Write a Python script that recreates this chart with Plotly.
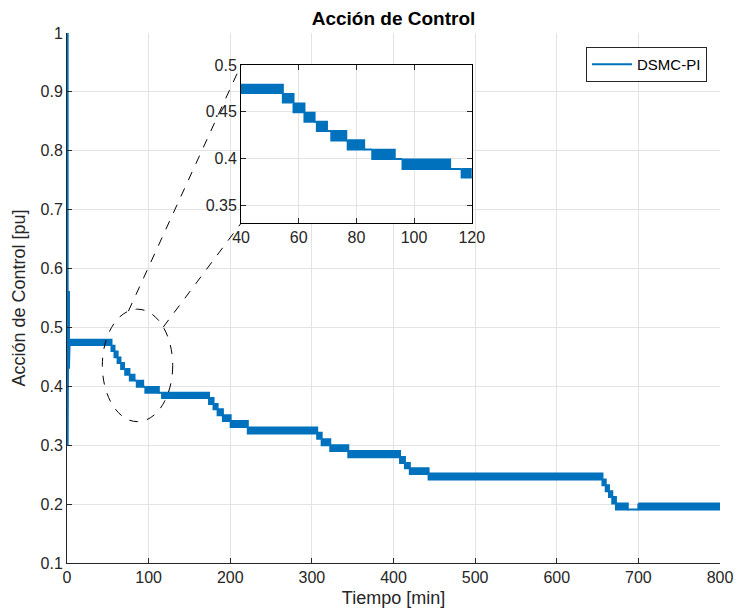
import math
import plotly.graph_objects as go

# ---------------- data ----------------
# initial transient at t ~ 0
trans_t = [0.8, 0.8, 1.6, 1.6, 2.4, 2.4, 3.2, 3.2]
trans_v = [1.00, 0.30, 0.30, 0.56, 0.56, 0.43, 0.43, 0.475]

# chattering segments: start time, end time, upper level, lower level
seg_start = [3.2, 54.5, 58.2, 62.0, 65.5, 66.3, 69.8, 71.3, 76.5, 77.0, 82.7, 85.5, 93.3, 96.0,
             112.5, 116.5, 174.0, 179.5, 184.5, 191.0, 200.5, 221.5, 306.5, 312.0, 322.5, 344.6,
             408.0, 414.0, 420.0, 443.0, 656.0, 660.0, 664.0, 668.0, 672.5, 687.0, 700.0]
seg_end = seg_start[1:] + [800.0]
seg_hi = [0.479, 0.469, 0.459, 0.449, 0.4395, 0.4395, 0.4295, 0.4295, 0.4195, 0.4197, 0.4097, 0.4095,
          0.3995, 0.399, 0.389, 0.389, 0.380, 0.370, 0.361, 0.351, 0.341, 0.330, 0.321, 0.310, 0.300,
          0.290, 0.280, 0.270, 0.261, 0.252, 0.242, 0.232, 0.222, 0.212, 0.201, 0.191, 0.201]
seg_lo = [0.470, 0.460, 0.4495, 0.4395, 0.4395, 0.4295, 0.4295, 0.4195, 0.4195, 0.4097, 0.4097, 0.3995,
          0.3995, 0.389, 0.389, 0.380, 0.370, 0.361, 0.351, 0.341, 0.331, 0.320, 0.311, 0.300, 0.290,
          0.2795, 0.270, 0.261, 0.251, 0.242, 0.232, 0.222, 0.212, 0.201, 0.191, 0.191, 0.191]

x_ticks_main = [0, 100, 200, 300, 400, 500, 600, 700, 800]
y_ticks_main = [0.1, 0.2, 0.3, 0.4, 0.5, 0.6, 0.7, 0.8, 0.9, 1.0]
x_ticks_inset = [40, 60, 80, 100, 120]
y_ticks_inset = [0.35, 0.40, 0.45, 0.50]
y_ticktext_inset = ["0.35", "0.4", "0.45", "0.5"]

series_name = "DSMC-PI"
title_text = "Acción de Control"
xlabel = "Tiempo [min]"
ylabel = "Acción de Control [pu]"

# zoom ellipse (data coordinates of the main axes)
ell_t = (43.3, 129.5)
ell_v = (0.340, 0.531)

# ---------------- layout geometry ----------------
W, H = 737, 615
ML, MR, MT, MB = 67, 17, 33, 52
x_range = [0, 800]
y_range = [0.1, 1.0]
inset_xdom = [0.2665, 0.6198]
inset_ydom = [0.641, 0.9396]
inset_xrange = [40, 120]
inset_yrange = [0.331, 0.5]

BLUE = "#0072BD"
FONT = "Liberation Sans, Arial, sans-serif"
AXC = "#262626"
GRID = "#e3e3e3"
TICK_SIZE = 16

# band polygons
bx, by = [], []
for t0, t1, hi, lo in zip(seg_start, seg_end, seg_hi, seg_lo):
    bx += [t0, t1, t1, t0, t0, None]
    by += [hi, hi, lo, lo, hi, None]

fig = go.Figure()
for xa, ya, leg in (("x", "y", True), ("x2", "y2", False)):
    fig.add_trace(go.Scatter(x=bx, y=by, mode="lines", fill="toself", fillcolor=BLUE,
                             line=dict(color=BLUE, width=2), xaxis=xa, yaxis=ya,
                             showlegend=False, hoverinfo="skip"))
    fig.add_trace(go.Scatter(x=trans_t, y=trans_v, mode="lines", name=series_name,
                             line=dict(color=BLUE, width=2), xaxis=xa, yaxis=ya,
                             showlegend=leg))

axis_common = dict(ticks="inside", ticklen=5, tickcolor=AXC, showline=True, linecolor=AXC,
                   linewidth=1, showgrid=True, gridcolor=GRID, gridwidth=1, zeroline=False,
                   tickfont=dict(family=FONT, size=TICK_SIZE, color=AXC))

fig.update_layout(
    width=W, height=H,
    margin=dict(l=ML, r=MR, t=MT, b=MB, autoexpand=False),
    paper_bgcolor="white", plot_bgcolor="white",
    font=dict(family=FONT, color=AXC),
    title=dict(text="<b>" + title_text + "</b>", x=(ML + (W - ML - MR) / 2) / W, xanchor="center",
               y=1 - 18 / H, yanchor="middle", font=dict(family=FONT, size=19, color="black")),
    xaxis=dict(domain=[0, 1], range=x_range, tickvals=x_ticks_main, **axis_common,
               title=dict(text=xlabel, font=dict(family=FONT, size=18, color=AXC), standoff=6)),
    yaxis=dict(domain=[0, 1], range=y_range, tickvals=y_ticks_main, **axis_common,
               title=dict(text=ylabel, font=dict(family=FONT, size=18, color=AXC), standoff=10)),
    xaxis2=dict(domain=inset_xdom, range=inset_xrange, tickvals=x_ticks_inset, anchor="y2",
                mirror="allticks", **axis_common),
    yaxis2=dict(domain=inset_ydom, range=inset_yrange, tickvals=y_ticks_inset,
                ticktext=y_ticktext_inset, anchor="x2",
                mirror="allticks", **axis_common),
    legend=dict(x=(707 - ML) / (W - ML - MR), y=(H - MB - 47) / (H - MT - MB),
                xanchor="right", yanchor="top", bgcolor="white", bordercolor=AXC, borderwidth=1,
                font=dict(family=FONT, size=15, color="black"), tracegroupgap=0,
                itemwidth=40),
    showlegend=True,
)
fig.update_xaxes(linecolor="black", selector=dict(anchor="y2"))
fig.update_yaxes(linecolor="black", selector=dict(anchor="x2"))

# ellipse and connector lines to the inset corners
cx = (ell_t[0] + ell_t[1]) / 2
cy = (ell_v[0] + ell_v[1]) / 2
rx = (ell_t[1] - ell_t[0]) / 2
ry = (ell_v[1] - ell_v[0]) / 2
fig.add_shape(type="circle", xref="x", yref="y", x0=ell_t[0], x1=ell_t[1], y0=ell_v[0], y1=ell_v[1],
              line=dict(color="black", width=1, dash="dash"))


def main_x(pfrac):
    return x_range[0] + pfrac * (x_range[1] - x_range[0])


def main_y(pfrac):
    return y_range[0] + pfrac * (y_range[1] - y_range[0])


for ang, corner_y in ((105, inset_ydom[1]), (43, inset_ydom[0])):
    a = math.radians(ang)
    fig.add_shape(type="line", xref="x", yref="y",
                  x0=cx + rx * math.cos(a), y0=cy + ry * math.sin(a),
                  x1=main_x(inset_xdom[0]), y1=main_y(corner_y),
                  line=dict(color="black", width=1, dash="dash"))

fig.write_html("out.html")
